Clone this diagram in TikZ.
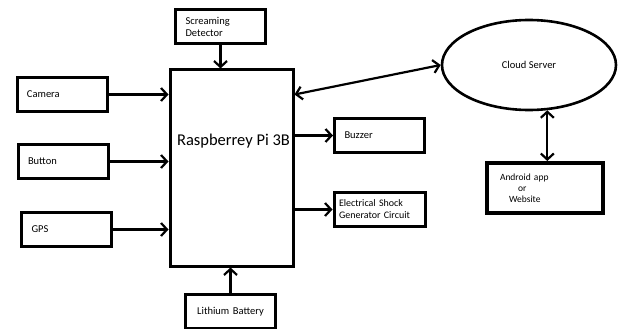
\documentclass[tikz,border=0pt]{standalone}
\usepackage{fontspec}
\setmainfont{Carlito}
\usetikzlibrary{shapes.geometric,arrows.meta}

\begin{document}
\begin{tikzpicture}[x=1pt,y=-1pt,
    box/.style={draw,line width=3pt,minimum height=34pt,inner ysep=0pt,inner xsep=10pt,
        text width=70pt,align=left,font=\fontsize{10.5}{12.5}\selectfont},
    arr/.style={-{Straight Barb[length=6pt,width=13pt]},line width=2.2pt},
    both/.style={{Straight Barb[length=6pt,width=13pt]}-{Straight Barb[length=6pt,width=13pt]},line width=2.2pt}]
    \useasboundingbox (0,0) rectangle (621,329);

    % the board
    \node[draw,line width=3pt,minimum width=123pt,minimum height=196pt] (pi) at (231.5,168) {};
    \node[font=\fontsize{16.5}{19}\selectfont] (pilbl) at (233.5,141) {Raspberrey Pi 3B};

    % inputs
    \node[box] (scream) at (220.5,27) {Screaming\\Detector};
    \node[box] (cam) at (62,94.5) {Camera};
    \node[box] (btn) at (63,161.5) {Button};
    \node[box] (gps) at (66.5,229.5) {GPS};
    \node[box,align=center] (bat) at (230.5,311.5) {Lithium Battery};

    % outputs
    \node[box] (buzz) at (379.5,135.5) {Buzzer};
    \node[box,inner xsep=5pt,text width=81pt,font=\fontsize{10}{12}\selectfont] (shock) at (379.5,209.5)
        {Electrical Shock\\Generator Circuit};

    % cloud side
    \node[draw,ellipse,line width=2.6pt,minimum width=174pt,minimum height=90pt,inner sep=0pt,
        font=\fontsize{10.5}{12.5}\selectfont] (cloud) at (529,65) {Cloud Server};
    \node[box,line width=4pt,minimum height=50pt,inner xsep=13pt,text width=90pt,
        font=\fontsize{9.5}{11}\selectfont] (app) at (545,188)
        {Android app\\\hspace*{18pt}or\\\hspace*{9pt}Website};

    \draw[arr] (scream.south) -- (scream.south |- pi.north);
    \draw[arr] (cam.east) -- (cam.east -| pi.west);
    \draw[arr] (btn.east) -- (btn.east -| pi.west);
    \draw[arr] (gps.east) -- (gps.east -| pi.west);
    \draw[arr] (bat.north) -- (bat.north |- pi.south);
    \draw[arr] (buzz.west -| pi.east) -- (buzz.west);
    \draw[arr] (shock.west -| pi.east) -- (shock.west);
    \draw[both] (pi.east |- cam.east) -- (cloud.west);
    \draw[both] (cloud.292) -- (cloud.292 |- app.north);
\end{tikzpicture}
\end{document}
